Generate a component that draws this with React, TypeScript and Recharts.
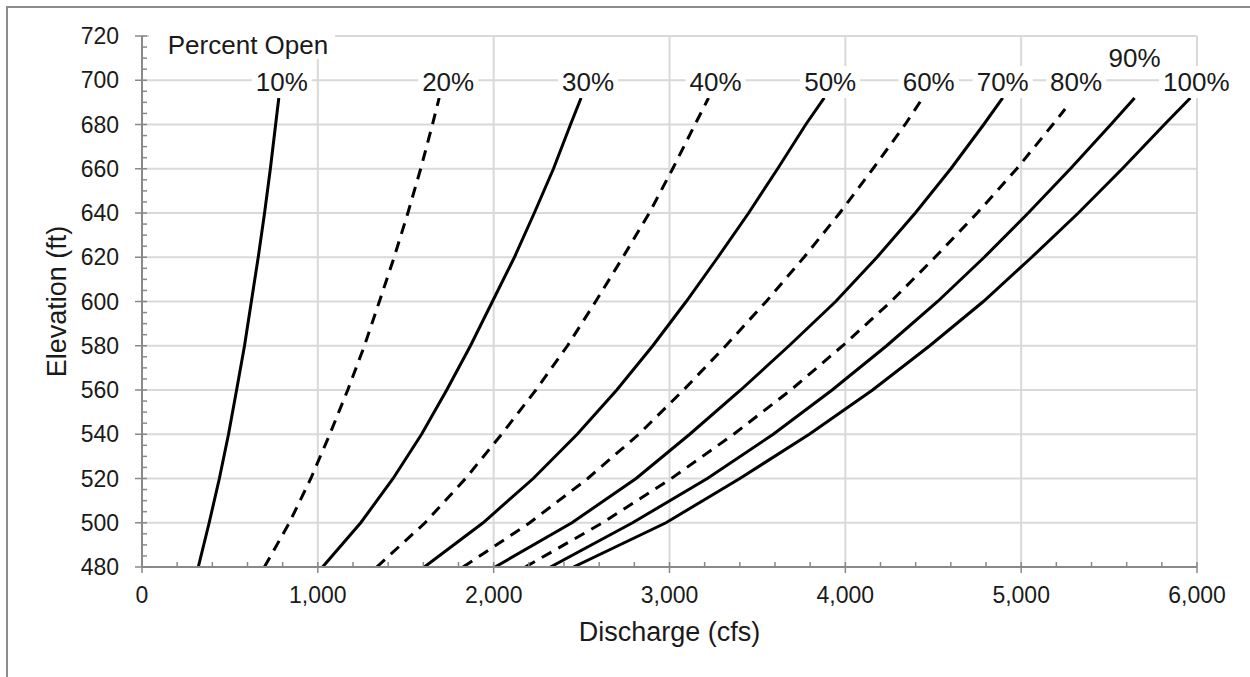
import { CartesianGrid, Line, LineChart, XAxis, YAxis } from "recharts";

// elevation (ft) of each reading; last point of each curve is its top elevation
const ELEVATIONS = [480, 500, 520, 540, 560, 580, 600, 620, 640, 660, 680];
const TOP_ELEVATIONS = [692, 692, 692, 692, 692, 692, 692, 687, 692, 692];

const PERCENTS = ["10%", "20%", "30%", "40%", "50%", "60%", "70%", "80%", "90%", "100%"];
const DASHED = [false, true, false, true, false, true, false, true, false, false];

// discharge (cfs) at each elevation above
const Q10 = [320, 382, 440, 492, 538, 583, 622, 661, 697, 730, 760, 778];
const Q20 = [696, 838, 960, 1068, 1170, 1265, 1350, 1434, 1512, 1585, 1652, 1690];
const Q30 = [1027, 1244, 1428, 1590, 1733, 1868, 1993, 2118, 2231, 2340, 2437, 2497];
const Q40 = [1335, 1610, 1840, 2045, 2240, 2420, 2580, 2735, 2885, 3018, 3145, 3222];
const Q50 = [1606, 1940, 2225, 2475, 2700, 2905, 3095, 3275, 3450, 3615, 3775, 3880];
const Q60 = [1826, 2205, 2535, 2825, 3080, 3320, 3550, 3765, 3968, 4157, 4340, 4440];
const Q70 = [2008, 2445, 2810, 3115, 3405, 3680, 3945, 4180, 4398, 4600, 4787, 4895];
const Q80 = [2180, 2620, 3010, 3365, 3690, 3985, 4260, 4510, 4750, 4975, 5180, 5250];
const Q90 = [2323, 2790, 3215, 3590, 3925, 4235, 4525, 4790, 5040, 5280, 5510, 5645];
const Q100 = [2454, 2980, 3400, 3795, 4155, 4480, 4785, 5060, 5325, 5575, 5815, 5962];
const DISCHARGES = [Q10, Q20, Q30, Q40, Q50, Q60, Q70, Q80, Q90, Q100];

const X_TICKS = [0, 1000, 2000, 3000, 4000, 5000, 6000];
const Y_TICKS = [480, 500, 520, 540, 560, 580, 600, 620, 640, 660, 680, 700, 720];
const X_MINOR_PER_MAJOR = 5;
const Y_MINOR_PER_MAJOR = 4;

// label placement relative to the top point of each curve (px)
const LABEL_OFFSETS = [
  { dx: 3, dy: -16 },
  { dx: 9, dy: -16 },
  { dx: 7, dy: -16 },
  { dx: 7, dy: -16 },
  { dx: 6, dy: -16 },
  { dx: 6, dy: -16 },
  { dx: 0, dy: -16 },
  { dx: 11, dy: -27 },
  { dx: 0, dy: -40 },
  { dx: 6, dy: -16 },
];

const FONT = "'Liberation Sans', Arial, sans-serif";
const TEXT = "#1a1a1a";
const AXIS = "#898989";
const GRID = "#d9d9d9";
const TICK_SIZE = 23;
const LABEL_SIZE = 26;

const withMinor = (major: number[], parts: number) => {
  const out: number[] = [];
  major.forEach((v, i) => {
    if (i === 0) {
      out.push(v);
      return;
    }
    const step = (v - major[i - 1]) / parts;
    for (let k = 1; k <= parts; k++) out.push(major[i - 1] + step * k);
  });
  return out;
};

const X_ALL = withMinor(X_TICKS, X_MINOR_PER_MAJOR);
const Y_ALL = withMinor(Y_TICKS, Y_MINOR_PER_MAJOR);

const series = PERCENTS.map((name, i) => ({
  name,
  dashed: DASHED[i],
  points: DISCHARGES[i].map((q, j) => ({
    q,
    e: j < ELEVATIONS.length ? ELEVATIONS[j] : TOP_ELEVATIONS[i],
  })),
}));

const fmt = (v: number) => v.toLocaleString("en-US");

function XTick(props: any) {
  const { x, y, payload } = props;
  const major = X_TICKS.includes(payload.value);
  return (
    <g>
      <line x1={x} x2={x} y1={y - 5} y2={major ? y + 6 : y} stroke={AXIS} strokeWidth={1.5} />
      {major && (
        <text x={x} y={y + 36} textAnchor="middle" fontSize={TICK_SIZE} fontFamily={FONT} fill={TEXT}>
          {fmt(payload.value)}
        </text>
      )}
    </g>
  );
}

function YTick(props: any) {
  const { x, y, payload } = props;
  const major = Y_TICKS.includes(payload.value);
  return (
    <g>
      <line x1={major ? x - 7 : x} x2={x + 5} y1={y} y2={y} stroke={AXIS} strokeWidth={1.5} />
      {major && (
        <text x={x - 23} y={y + 8} textAnchor="end" fontSize={TICK_SIZE} fontFamily={FONT} fill={TEXT}>
          {payload.value}
        </text>
      )}
    </g>
  );
}

function labelWidth(text: string) {
  return ((text.length - 1) * 0.556 + 0.889) * LABEL_SIZE;
}

function makeLabel(i: number) {
  const last = DISCHARGES[i].length - 1;
  const text = PERCENTS[i];
  const { dx, dy } = LABEL_OFFSETS[i];
  return (p: any) => {
    if (p.index !== last) return <g />;
    const px = p.x ?? p.viewBox?.x;
    const py = p.y ?? p.viewBox?.y;
    const cx = px + dx;
    const cy = py + dy;
    const w = labelWidth(text) + 8;
    return (
      <g>
        <rect x={cx - w / 2} y={cy - 16} width={w} height={32} fill="#fff" />
        <text x={cx} y={cy + 9} textAnchor="middle" fontSize={LABEL_SIZE} fontFamily={FONT} fill={TEXT}>
          {text}
        </text>
      </g>
    );
  };
}

export default function App() {
  return (
    <div style={{ position: "absolute", left: 0, top: 0, width: 1250, height: 677, background: "#fff" }}>
      <LineChart
        width={1250}
        height={677}
        margin={{ top: 36, right: 53, bottom: 30, left: 42 }}
        style={{ fontFamily: FONT }}
      >
        <CartesianGrid
          stroke={GRID}
          strokeWidth={2}
          horizontalValues={Y_TICKS}
          verticalValues={X_TICKS}
        />
        <XAxis
          type="number"
          dataKey="q"
          domain={[0, 6000]}
          ticks={X_ALL}
          interval={0}
          allowDataOverflow
          tickLine={false}
          tickSize={0}
          tickMargin={0}
          axisLine={{ stroke: AXIS, strokeWidth: 2 }}
          tick={(p: any) => <XTick {...p} />}
          height={80}
          label={{
            value: "Discharge (cfs)",
            position: "insideBottom",
            offset: 6,
            style: { fontSize: 27, fill: TEXT, fontFamily: FONT },
          }}
        />
        <YAxis
          type="number"
          domain={[480, 720]}
          ticks={Y_ALL}
          interval={0}
          allowDataOverflow
          tickLine={false}
          tickSize={0}
          tickMargin={0}
          axisLine={{ stroke: AXIS, strokeWidth: 2 }}
          tick={(p: any) => <YTick {...p} />}
          width={100}
          label={{
            value: "Elevation (ft)",
            angle: -90,
            position: "insideLeft",
            offset: 14,
            style: { fontSize: 27, fill: TEXT, fontFamily: FONT, textAnchor: "middle" },
          }}
        />
        {series.map((s, i) => (
          <Line
            key={s.name}
            data={s.points}
            dataKey="e"
            name={s.name}
            type="linear"
            stroke="#000"
            strokeWidth={3}
            strokeDasharray={s.dashed ? "11 8" : undefined}
            dot={false}
            activeDot={false}
            label={makeLabel(i)}
            isAnimationActive={false}
          />
        ))}
      </LineChart>
      <svg
        width={1250}
        height={677}
        style={{ position: "absolute", left: 0, top: 0, pointerEvents: "none" }}
      >
        <line x1={6} x2={1250} y1={7} y2={7} stroke="#8c8c8c" strokeWidth={2} />
        <line x1={7} x2={7} y1={6} y2={677} stroke="#8c8c8c" strokeWidth={2} />
        <rect x={149} y={28} width={186} height={31} fill="#fff" />
        <text x={248} y={54} textAnchor="middle" fontSize={LABEL_SIZE} fontFamily={FONT} fill={TEXT}>
          Percent Open
        </text>
      </svg>
    </div>
  );
}
